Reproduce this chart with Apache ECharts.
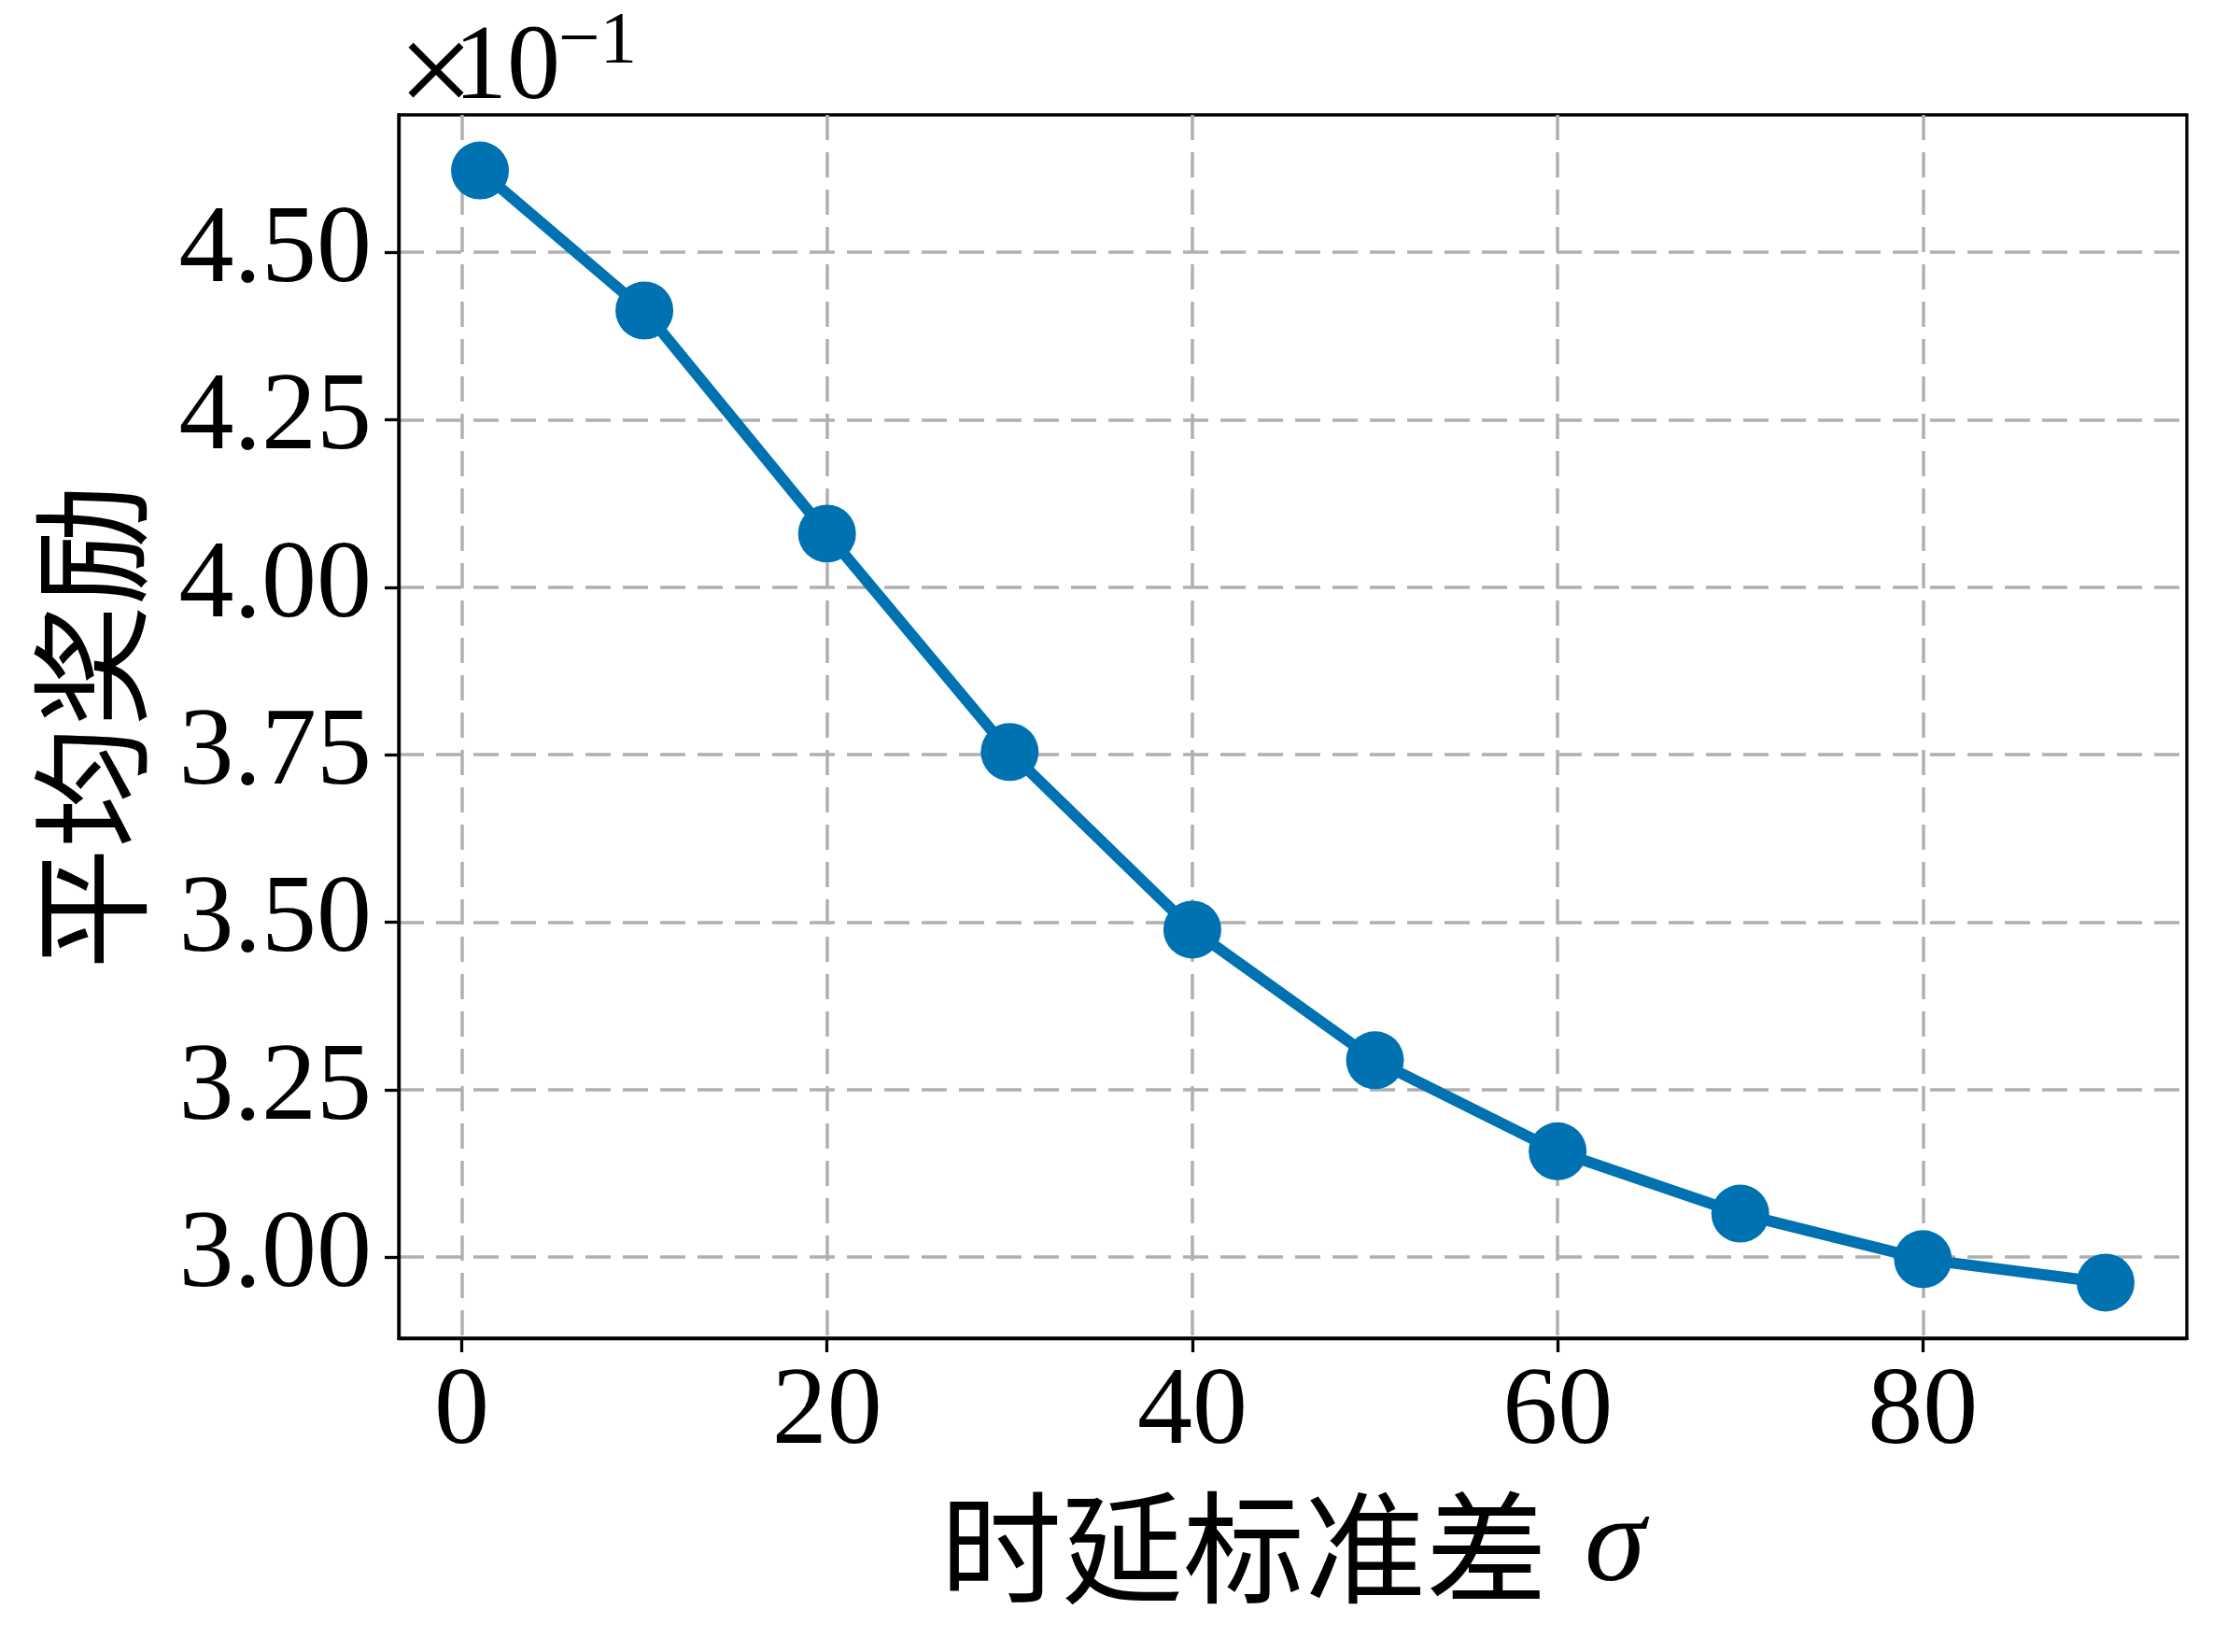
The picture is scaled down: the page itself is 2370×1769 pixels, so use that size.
<!DOCTYPE html>
<html>
<head>
<meta charset="utf-8">
<script src="https://cdn.jsdelivr.net/npm/echarts@6/dist/echarts.min.js"></script>
<style>
html,body{margin:0;padding:0;background:#fff;}
#chart{width:2370px;height:1769px;}
</style>
</head>
<body>
<div id="chart"></div>
<script>
// Data
const sigma = [1, 10, 20, 30, 40, 50, 60, 70, 80, 90];
const avgReward = [0.4622, 0.4413, 0.4080, 0.3754, 0.3489, 0.3294, 0.3158, 0.3065, 0.2997, 0.2962];
const xTicks = [0, 20, 40, 60, 80];
const yTicks = [0.300, 0.325, 0.350, 0.375, 0.400, 0.425, 0.450];
const xName = '时延标准差';
const xSymbol = 'σ';
const yName = '平均奖励';
const offsetTimes = '×';
const offsetBase = '10';
const offsetExp = '−1';

const serif = '"Liberation Serif", "Times New Roman", serif';
const cjk = '"Noto Sans CJK SC", "Noto Sans", sans-serif';

// matplotlib-like 5% margins
const xMin = Math.min(...sigma), xMax = Math.max(...sigma);
const yMin = Math.min(...avgReward), yMax = Math.max(...avgReward);
const xm = (xMax - xMin) * 0.05, ym = (yMax - yMin) * 0.05;

const chart = echarts.init(document.getElementById('chart'), null, {renderer: 'canvas'});
const gridStyle = {show: true, lineStyle: {color: '#b0b0b0', width: 3.5, type: [27, 13]}};
const option = {
  animation: false,
  backgroundColor: '#fff',
  grid: {
    left: 427, right: 28, top: 123, bottom: 336,
    containLabel: false, outerBoundsMode: 'none',
    show: true, borderColor: '#000', borderWidth: 3.3, backgroundColor: 'transparent'
  },
  xAxis: {
    type: 'value',
    min: xMin - xm, max: xMax + xm,
    name: '{a|' + xName + '}{s|' + xSymbol + '}',
    nameLocation: 'middle',
    nameGap: 158,
    nameTextStyle: {
      rich: {
        a: {fontFamily: cjk, fontSize: 130, color: '#000'},
        s: {fontFamily: serif, fontStyle: 'italic', fontSize: 132, color: '#000', padding: [0, 0, 0, 40]}
      }
    },
    axisLine: {show: true, onZero: false, lineStyle: {color: '#000', width: 3.3}},
    axisTick: {show: true, inside: false, length: 15, lineStyle: {color: '#000', width: 3.3}, customValues: xTicks},
    axisLabel: {show: true, margin: 22, fontFamily: serif, fontSize: 118, color: '#000', customValues: xTicks,
      formatter: v => String(Math.round(v))},
    splitLine: gridStyle
  },
  yAxis: {
    type: 'value',
    min: yMin - ym, max: yMax + ym,
    name: yName,
    nameLocation: 'middle',
    nameRotate: 90,
    nameGap: 265,
    nameTextStyle: {fontFamily: cjk, fontSize: 130, color: '#000'},
    axisLine: {show: true, onZero: false, lineStyle: {color: '#000', width: 3.3}},
    axisTick: {show: true, inside: false, length: 15, lineStyle: {color: '#000', width: 3.3}, customValues: yTicks},
    axisLabel: {show: true, margin: 29, fontFamily: serif, fontSize: 118, color: '#000', customValues: yTicks,
      formatter: v => (v * 10).toFixed(2)},
    splitLine: gridStyle
  },
  graphic: [
    {type: 'text', left: 426, top: 12, silent: true,
      style: {text: offsetTimes, fontFamily: serif, fontSize: 145, fill: '#000'}},
    {type: 'text', left: 486, top: 18, silent: true,
      style: {text: offsetBase, fontFamily: serif, fontSize: 114, fill: '#000'}},
    {type: 'text', left: 598, top: 6, silent: true,
      style: {text: offsetExp, fontFamily: serif, fontSize: 79, fill: '#000'}}
  ],
  series: [{
    type: 'line',
    data: sigma.map((s, i) => [s, avgReward[i]]),
    symbol: 'circle',
    symbolSize: 62,
    showSymbol: true,
    lineStyle: {color: '#0072B2', width: 12},
    itemStyle: {color: '#0072B2'},
    clip: false,
    z: 5
  }]
};
chart.setOption(option);
</script>
</body>
</html>
